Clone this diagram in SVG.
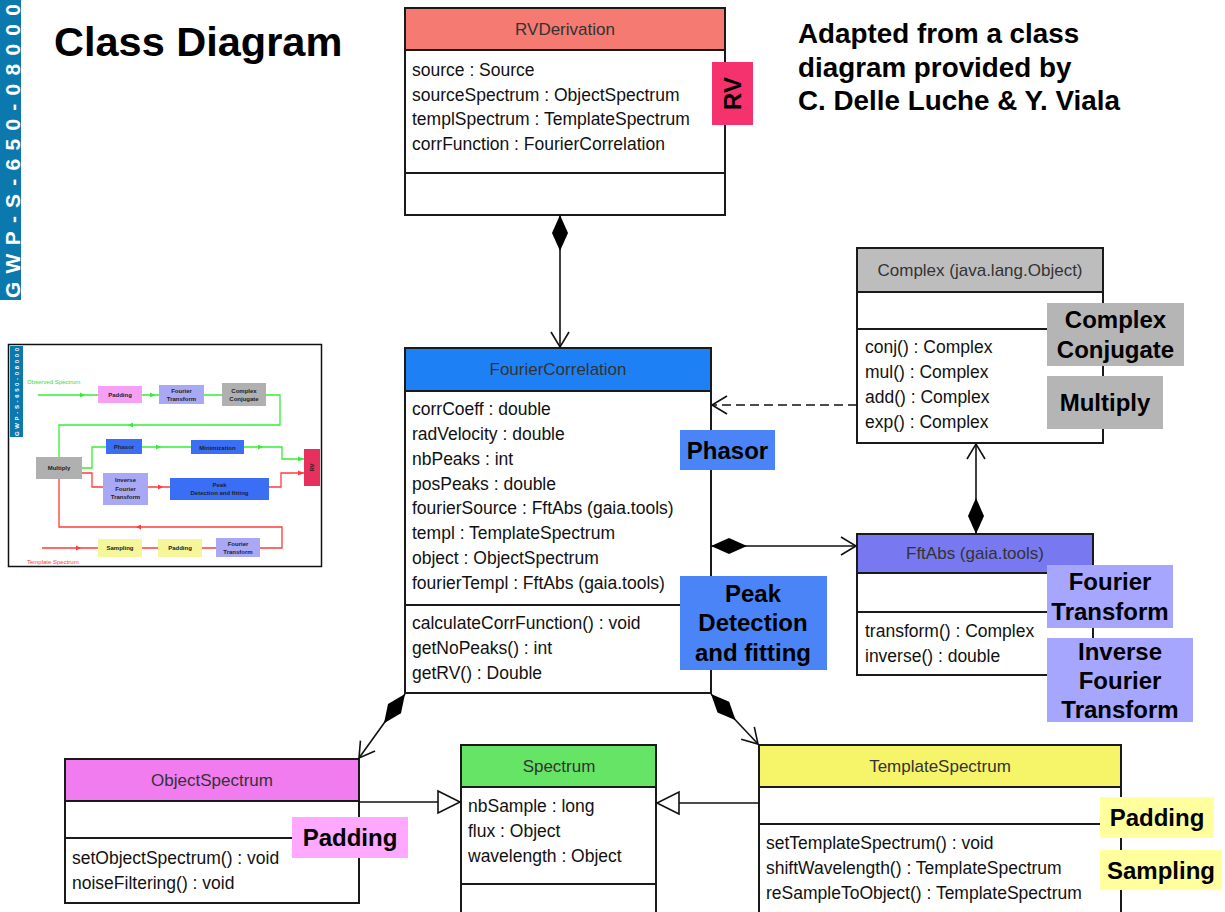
<svg xmlns="http://www.w3.org/2000/svg" width="1225" height="912" viewBox="0 0 1225 912">
<style>
.box{fill:#fff;stroke:#1a1a1a;stroke-width:2}
.sep{stroke:#1a1a1a;stroke-width:2}
.ttl{font-family:"Liberation Sans",Arial,sans-serif;font-size:17px;fill:#333;text-anchor:middle}
.m{font-family:"Liberation Sans",Arial,sans-serif;font-size:17.5px;fill:#111}
.lbl{font-family:"Liberation Sans",Arial,sans-serif;font-size:24px;font-weight:bold;fill:#000;text-anchor:middle}
.big{font-family:"Liberation Sans",Arial,sans-serif;font-weight:bold;fill:#000}
.con{fill:none;stroke:#111;stroke-width:1.6}
.it{font-family:"Liberation Sans",Arial,sans-serif;font-size:6px;font-weight:bold;fill:#222;text-anchor:middle}
.gl{fill:none;stroke:#33ee33;stroke-width:1.3}
.rl{fill:none;stroke:#ff3b3b;stroke-width:1.3}
</style>
<defs>
<marker id="dia" viewBox="-40 -10 44 20" refX="0" refY="0" markerWidth="44" markerHeight="20" markerUnits="userSpaceOnUse" orient="auto-start-reverse">
<path d="M0,0 L-18,-8 L-36,0 L-18,8 Z" fill="#000"/>
</marker>
<marker id="arr" viewBox="-18 -11 20 22" refX="0" refY="0" markerWidth="20" markerHeight="22" markerUnits="userSpaceOnUse" orient="auto">
<path d="M-15,-9 L0,0 L-15,9" fill="none" stroke="#111" stroke-width="1.6"/>
</marker>
<marker id="tri" viewBox="-25 -13 27 26" refX="0" refY="0" markerWidth="27" markerHeight="26" markerUnits="userSpaceOnUse" orient="auto">
<path d="M-22,-11 L0,0 L-22,11 Z" fill="#fff" stroke="#111" stroke-width="1.6"/>
</marker>
</defs>
<rect width="1225" height="912" fill="#fff"/>

<g id="sidebar">
<rect x="0" y="0" width="21" height="300" fill="#0b78ae"/>
<text transform="translate(20,298) rotate(-90)" font-family="Liberation Sans, Arial, sans-serif" font-size="21" font-weight="bold" fill="#fff" textLength="294" lengthAdjust="spacing">GWP-S-650-08000</text>
</g>

<g id="title">
<text class="big" x="54" y="56" font-size="41.5">Class Diagram</text>
<text class="big" x="798" y="43" font-size="27.8">Adapted from a class</text>
<text class="big" x="798" y="77" font-size="27.8">diagram provided by</text>
<text class="big" x="798" y="110" font-size="27.8">C. Delle Luche &amp; Y. Viala</text>
</g>

<g id="inset">
<rect x="8.5" y="344.5" width="313" height="222" fill="#fff" stroke="#111" stroke-width="1.5"/>
<rect x="10" y="346" width="13" height="91" fill="#0b78ae"/>
<text transform="translate(19,436) rotate(-90)" font-family="Liberation Sans, Arial, sans-serif" font-size="6" font-weight="bold" fill="#fff" textLength="88" lengthAdjust="spacing">GWP-S-650-08000</text>
<text x="27" y="384" font-family="Liberation Sans, Arial, sans-serif" font-size="6" fill="#33dd33">Observed Spectrum</text>
<text x="27" y="564" font-family="Liberation Sans, Arial, sans-serif" font-size="6" fill="#ff3b3b">Template Spectrum</text>
<path class="gl" d="M38,395 H98 M142,395 H159 M204,395 H222 M266,395 H280 V425 H59 V457 M82,468 H92 V447 H106 M142,447 H191 M244,447 H282 V459 H304"/>
<path class="rl" d="M82,473 H92 V487 H103 M148,487 H170 M269,487 H281 V473 H304 M59,479 V527 H282 V548 H260 M42,548 H98 M142,548 H158 M202,548 H216"/>
<path fill="#33ee33" d="M80,392.5 L85,395 L80,397.5 Z M150,392.5 L155,395 L150,397.5 Z M133,422.5 L128,425 L133,427.5 Z M156,444.5 L161,447 L156,449.5 Z M258,444.5 L263,447 L258,449.5 Z M298,456.5 L304,459 L298,461.5 Z"/>
<path fill="#ff3b3b" d="M158,484.5 L163,487 L158,489.5 Z M298,470.5 L304,473 L298,475.5 Z M141,524.5 L136,527 L141,529.5 Z M76,545.5 L81,548 L76,550.5 Z"/>
<rect x="98" y="386" width="44" height="17" fill="#f5a0f5"/>
<text class="it" x="120" y="397">Padding</text>
<rect x="159" y="385" width="45" height="19" fill="#a8a8f5"/>
<text class="it" x="181.5" y="393">Fourier</text><text class="it" x="181.5" y="401">Transform</text>
<rect x="222" y="383" width="44" height="23" fill="#b0b0b0"/>
<text class="it" x="244" y="393">Complex</text><text class="it" x="244" y="401">Conjugate</text>
<rect x="36" y="457" width="46" height="22" fill="#b0b0b0"/>
<text class="it" x="59" y="470">Multiply</text>
<rect x="106" y="439" width="36" height="15" fill="#3a6ef5"/>
<text class="it" x="124" y="449">Phasor</text>
<rect x="191" y="440" width="53" height="14" fill="#3a6ef5"/>
<text class="it" x="217.5" y="449.5">Minimization</text>
<rect x="304" y="449" width="16" height="37" fill="#e8305e"/>
<text class="it" transform="translate(314,467.5) rotate(-90)" fill="#fff">RV</text>
<rect x="103" y="473" width="45" height="32" fill="#a8a8f5"/>
<text class="it" x="125.5" y="482">Inverse</text><text class="it" x="125.5" y="490.5">Fourier</text><text class="it" x="125.5" y="499">Transform</text>
<rect x="170" y="478" width="99" height="22" fill="#3a6ef5"/>
<text class="it" x="219.5" y="487">Peak</text><text class="it" x="219.5" y="495">Detection and fitting</text>
<rect x="98" y="539" width="44" height="18" fill="#f5f59a"/>
<text class="it" x="120" y="550">Sampling</text>
<rect x="158" y="539" width="44" height="18" fill="#f5f59a"/>
<text class="it" x="180" y="550">Padding</text>
<rect x="216" y="538" width="44" height="19" fill="#a8a8f5"/>
<text class="it" x="238" y="546">Fourier</text><text class="it" x="238" y="554">Transform</text>
</g>

<g id="RVDerivation">
<rect class="box" x="405" y="8" width="320" height="207"/>
<rect x="406" y="9" width="318" height="41" fill="#f47a72"/>
<line class="sep" x1="405" y1="50" x2="725" y2="50"/>
<line class="sep" x1="405" y1="173" x2="725" y2="173"/>
<text class="ttl" x="565" y="35">RVDerivation</text>
<text class="m" x="412" y="76">source : Source</text>
<text class="m" x="412" y="101">sourceSpectrum : ObjectSpectrum</text>
<text class="m" x="412" y="125">templSpectrum : TemplateSpectrum</text>
<text class="m" x="412" y="150">corrFunction : FourierCorrelation</text>
</g>

<g id="FourierCorrelation">
<rect class="box" x="405" y="348" width="306" height="345"/>
<rect x="406" y="349" width="304" height="42" fill="#1e80f5"/>
<line class="sep" x1="405" y1="391" x2="711" y2="391"/>
<line class="sep" x1="405" y1="605" x2="711" y2="605"/>
<text class="ttl" x="558" y="375" fill="#2a3a55">FourierCorrelation</text>
<text class="m" x="412" y="415">corrCoeff : double</text>
<text class="m" x="412" y="440">radVelocity : double</text>
<text class="m" x="412" y="465">nbPeaks : int</text>
<text class="m" x="412" y="490">posPeaks : double</text>
<text class="m" x="412" y="514">fourierSource  : FftAbs (gaia.tools)</text>
<text class="m" x="412" y="539">templ : TemplateSpectrum</text>
<text class="m" x="412" y="564">object : ObjectSpectrum</text>
<text class="m" x="412" y="589">fourierTempl : FftAbs (gaia.tools)</text>
<text class="m" x="412" y="629">calculateCorrFunction() : void</text>
<text class="m" x="412" y="654">getNoPeaks() : int</text>
<text class="m" x="412" y="679">getRV() : Double</text>
</g>

<g id="Complex">
<rect class="box" x="857" y="248" width="246" height="195"/>
<rect x="858" y="249" width="244" height="43" fill="#bdbdbd"/>
<line class="sep" x1="857" y1="292" x2="1103" y2="292"/>
<line class="sep" x1="857" y1="329" x2="1103" y2="329"/>
<text class="ttl" x="980" y="276">Complex (java.lang.Object)</text>
<text class="m" x="865" y="353">conj() : Complex</text>
<text class="m" x="865" y="378">mul() : Complex</text>
<text class="m" x="865" y="403">add() : Complex</text>
<text class="m" x="865" y="428">exp() : Complex</text>
</g>

<g id="FftAbs">
<rect class="box" x="857" y="534" width="236" height="141"/>
<rect x="858" y="535" width="234" height="38" fill="#7878f0"/>
<line class="sep" x1="857" y1="573" x2="1093" y2="573"/>
<line class="sep" x1="857" y1="612" x2="1093" y2="612"/>
<text class="ttl" x="975" y="559">FftAbs (gaia.tools)</text>
<text class="m" x="865" y="637">transform() : Complex</text>
<text class="m" x="865" y="662">inverse() : double</text>
</g>

<g id="ObjectSpectrum">
<rect class="box" x="65" y="759" width="294" height="144"/>
<rect x="66" y="760" width="292" height="41" fill="#f07cf0"/>
<line class="sep" x1="65" y1="801" x2="359" y2="801"/>
<line class="sep" x1="65" y1="838" x2="359" y2="838"/>
<text class="ttl" x="212" y="786" fill="#2a2a55">ObjectSpectrum</text>
<text class="m" x="72" y="864">setObjectSpectrum() : void</text>
<text class="m" x="72" y="889">noiseFiltering() : void</text>
</g>

<g id="Spectrum">
<rect class="box" x="461" y="745" width="195" height="180"/>
<rect x="462" y="746" width="193" height="41" fill="#66e466"/>
<line class="sep" x1="461" y1="787" x2="656" y2="787"/>
<line class="sep" x1="461" y1="884" x2="656" y2="884"/>
<text class="ttl" x="559" y="772" fill="#224422">Spectrum</text>
<text class="m" x="468" y="812">nbSample : long</text>
<text class="m" x="468" y="837">flux : Object</text>
<text class="m" x="468" y="862">wavelength : Object</text>
</g>

<g id="TemplateSpectrum">
<rect class="box" x="759" y="745" width="362" height="180"/>
<rect x="760" y="746" width="360" height="41" fill="#f6f56a"/>
<line class="sep" x1="759" y1="787" x2="1121" y2="787"/>
<line class="sep" x1="759" y1="824" x2="1121" y2="824"/>
<text class="ttl" x="940" y="772">TemplateSpectrum</text>
<text class="m" x="766" y="849">setTemplateSpectrum() : void</text>
<text class="m" x="766" y="874">shiftWavelength() : TemplateSpectrum</text>
<text class="m" x="766" y="899">reSampleToObject() : TemplateSpectrum</text>
</g>

<g id="connectors">
<path class="con" d="M560,215 L560,347" marker-start="url(#dia)" marker-end="url(#arr)"/>
<path class="con" d="M857,405 L712,405" stroke-dasharray="9,5" marker-end="url(#arr)"/>
<path class="con" d="M711,546 L856,546" marker-start="url(#dia)" marker-end="url(#arr)"/>
<path class="con" d="M976,534 L976,444" marker-start="url(#dia)" marker-end="url(#arr)"/>
<path class="con" d="M405,694 L359,758" marker-start="url(#dia)" marker-end="url(#arr)"/>
<path class="con" d="M711,694 L758,744" marker-start="url(#dia)" marker-end="url(#arr)"/>
<path class="con" d="M359,802 L460,802" marker-end="url(#tri)"/>
<path class="con" d="M759,803 L657,803" marker-end="url(#tri)"/>
</g>

<g id="labels">
<rect x="712" y="62" width="41" height="63" fill="#f5316e"/>
<text class="lbl" transform="translate(741,93.5) rotate(-90)">RV</text>
<rect x="680" y="430" width="95" height="40" fill="#4a84f7"/>
<text class="lbl" x="727.5" y="459">Phasor</text>
<rect x="680" y="576" width="147" height="94" fill="#4a84f7"/>
<text class="lbl" x="753" y="602">Peak</text>
<text class="lbl" x="753" y="631">Detection</text>
<text class="lbl" x="753" y="661">and fitting</text>
<rect x="1047" y="303" width="137" height="63" fill="#b5b5b5"/>
<text class="lbl" x="1115.5" y="328">Complex</text>
<text class="lbl" x="1115.5" y="358">Conjugate</text>
<rect x="1047" y="376" width="116" height="53" fill="#b5b5b5"/>
<text class="lbl" x="1105" y="411">Multiply</text>
<rect x="1047" y="565" width="126" height="63" fill="#a6a6ff"/>
<text class="lbl" x="1110" y="590">Fourier</text>
<text class="lbl" x="1110" y="620">Transform</text>
<rect x="1047" y="638" width="146" height="84" fill="#a6a6ff"/>
<text class="lbl" x="1120" y="660">Inverse</text>
<text class="lbl" x="1120" y="689">Fourier</text>
<text class="lbl" x="1120" y="718">Transform</text>
<rect x="292" y="817" width="116" height="41" fill="#ffa8ff"/>
<text class="lbl" x="350" y="846">Padding</text>
<rect x="1100" y="797" width="114" height="41" fill="#ffff9e"/>
<text class="lbl" x="1157" y="826">Padding</text>
<rect x="1100" y="850" width="122" height="40" fill="#ffff9e"/>
<text class="lbl" x="1161" y="879">Sampling</text>
</g>
</svg>
